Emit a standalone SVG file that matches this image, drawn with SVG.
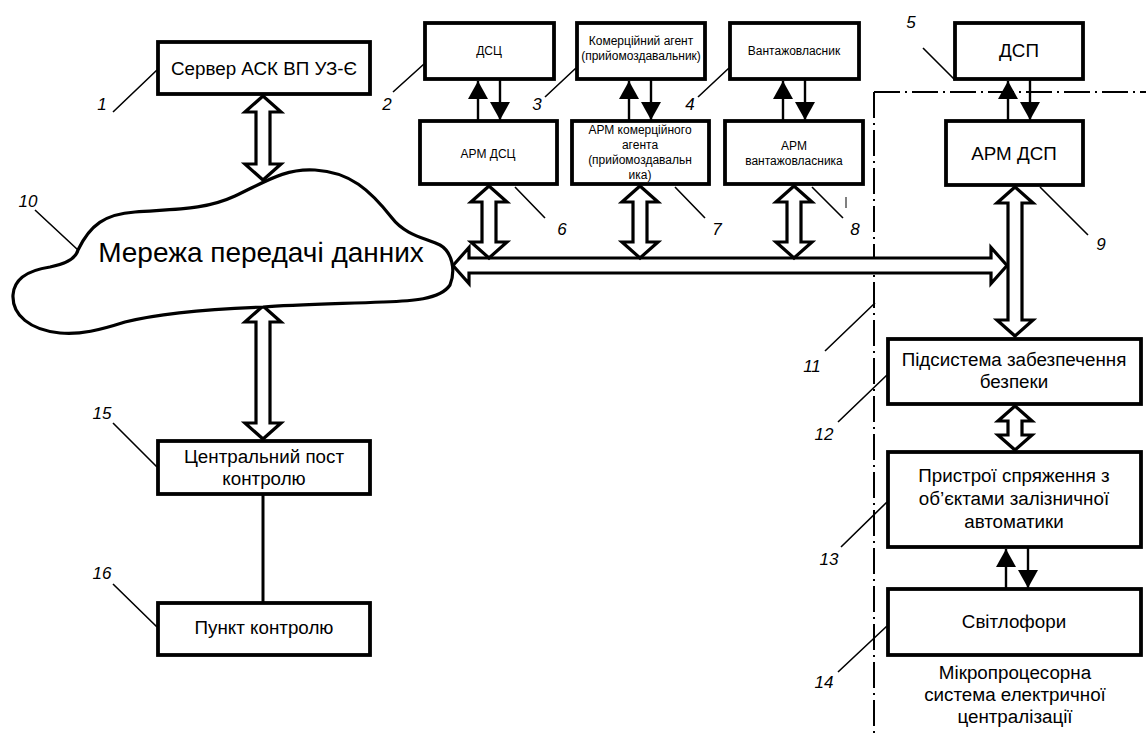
<svg xmlns="http://www.w3.org/2000/svg" width="1146" height="737" viewBox="0 0 1146 737">
<style>
.box{fill:#fff;stroke:#000;stroke-width:3.8}
.t{font-family:"Liberation Sans",Arial,sans-serif;fill:#000;text-anchor:middle}
.t18{font-size:18.8px}
.t13{font-size:12px}
.num{font-family:"Liberation Sans",Arial,sans-serif;font-size:17px;font-style:italic;text-anchor:middle}
.lead{stroke:#000;stroke-width:1.6;fill:none}
.dbl{fill:#fff;stroke:#000;stroke-width:3.2;stroke-linejoin:miter}
.sa{stroke:#000;stroke-width:2.4;fill:none;marker-end:url(#ah)}
.dd{stroke:#000;stroke-width:2;fill:none;stroke-dasharray:26 5 2 5}
</style>
<defs>
<marker id="ah" viewBox="0 0 18 20" refX="18" refY="10" markerWidth="18" markerHeight="20" markerUnits="userSpaceOnUse" orient="auto">
<path d="M0,0 L18,10 L0,20 Z" fill="#000"/>
</marker>
</defs>
<rect width="1146" height="737" fill="#fff"/>

<g id="boundary">
<path class="dd" d="M874,92 L1146,92"/>
<path class="dd" d="M874,92 L874,737"/>
</g>

<g id="connectors">
<polygon class="dbl" points="453,265.5 469,247.5 469,258 991,258 991,247.5 1007,265.5 991,283.5 991,273 469,273 469,283.5"/>
<polygon class="dbl" points="263,96 281,112 270,112 270,164 281,164 263,180 245,164 256,164 256,112 245,112"/>
<polygon class="dbl" points="263,306 281,322 270,322 270,423 281,423 263,439 245,423 256,423 256,322 245,322"/>
<polygon class="dbl" points="489,186 507,202 496,202 496,242 507,242 489,258 471,242 482,242 482,202 471,202"/>
<polygon class="dbl" points="640,186 658,202 647,202 647,242 658,242 640,258 622,242 633,242 633,202 622,202"/>
<polygon class="dbl" points="794,186 812,202 801,202 801,242 812,242 794,258 776,242 787,242 787,202 776,202"/>
<polygon class="dbl" points="1015,187 1033,203 1022,203 1022,320 1033,320 1015,336 997,320 1008,320 1008,203 997,203"/>
<polygon class="dbl" points="1015,406 1032,421 1022,421 1022,435 1032,435 1015,450 998,435 1008,435 1008,421 998,421"/>
<line class="sa" x1="478" y1="121" x2="478" y2="81"/>
<line class="sa" x1="500" y1="80" x2="500" y2="120"/>
<line class="sa" x1="629" y1="121" x2="629" y2="81"/>
<line class="sa" x1="651" y1="80" x2="651" y2="120"/>
<line class="sa" x1="783" y1="121" x2="783" y2="81"/>
<line class="sa" x1="805" y1="80" x2="805" y2="120"/>
<line class="sa" x1="1008" y1="121" x2="1008" y2="81"/>
<line class="sa" x1="1030" y1="80" x2="1030" y2="120"/>
<line class="sa" x1="1006" y1="589" x2="1006" y2="549"/>
<line class="sa" x1="1028" y1="548" x2="1028" y2="588"/>
<line x1="263" y1="495" x2="263" y2="603" stroke="#000" stroke-width="3"/>
</g>

<g id="n10">
<path d="M78,250 C90,225 105,214 135,212 C175,209 205,210 235,196 C265,182 285,168 315,170 C350,172 370,190 392,218 C405,235 425,238 440,245 C452,252 456,270 450,285 C440,300 410,301 383,302 C330,304 290,305 263,307 C210,309 160,313 125,322 C100,330 80,335 60,333 C30,330 12,315 13,295 C14,278 30,270 50,267 C65,264 76,258 78,250 Z" fill="#fff" stroke="#000" stroke-width="3.2"/>
<text class="t" x="261" y="262" font-size="28">Мережа передачі данних</text>
</g>

<g id="n1"><rect class="box" x="158" y="42" width="212" height="52"/><text class="t t18" x="264" y="75">Сервер АСК ВП УЗ-Є</text></g>
<g id="n2"><rect class="box" x="425" y="23" width="129" height="56"/><text class="t t13" x="489" y="55">ДСЦ</text></g>
<g id="n3"><rect class="box" x="577" y="23" width="128" height="56"/><text class="t t13" x="641" y="45">Комерційний агент</text><text class="t t13" x="641" y="60">(прийомоздавальник)</text></g>
<g id="n4"><rect class="box" x="730" y="23" width="129" height="56"/><text class="t t13" x="794" y="55">Вантажовласник</text></g>
<g id="n5"><rect class="box" x="955" y="23" width="128" height="56"/><text class="t t18" x="1019" y="57">ДСП</text></g>
<g id="n6"><rect class="box" x="420" y="121" width="137" height="63"/><text class="t t13" x="488" y="158">АРМ ДСЦ</text></g>
<g id="n7"><rect class="box" x="572" y="121" width="137" height="63"/><text class="t t13" x="640" y="134">АРМ комерційного</text><text class="t t13" x="640" y="149">агента</text><text class="t t13" x="640" y="164">(прийомоздавальн</text><text class="t t13" x="640" y="179">ика)</text></g>
<g id="n8"><rect class="box" x="725" y="121" width="138" height="63"/><text class="t t13" x="794" y="150">АРМ</text><text class="t t13" x="794" y="165">вантажовласника</text></g>
<g id="n9"><rect class="box" x="946" y="121" width="137" height="64"/><text class="t t18" x="1014" y="160">АРМ ДСП</text></g>
<g id="n12"><rect class="box" x="888" y="339" width="253" height="65"/><text class="t t18" x="1014" y="366">Підсистема забезпечення</text><text class="t t18" x="1014" y="388">безпеки</text></g>
<g id="n13"><rect class="box" x="888" y="452" width="253" height="95"/><text class="t t18" x="1014" y="482">Пристрої спряження з</text><text class="t t18" x="1014" y="505">об’єктами залізничної</text><text class="t t18" x="1014" y="528">автоматики</text></g>
<g id="n14"><rect class="box" x="888" y="589" width="253" height="66"/><text class="t t18" x="1014" y="628">Світлофори</text></g>
<g id="n11"><text class="t t18" x="1015" y="679">Мікропроцесорна</text><text class="t t18" x="1015" y="701">система електричної</text><text class="t t18" x="1015" y="723">централізації</text></g>
<g id="n15"><rect class="box" x="158" y="441" width="212" height="53"/><text class="t t18" x="264" y="463">Центральний пост</text><text class="t t18" x="264" y="485">контролю</text></g>
<g id="n16"><rect class="box" x="158" y="603" width="212" height="52"/><text class="t t18" x="264" y="634">Пункт контролю</text></g>

<g id="labels">
<path class="lead" d="M113,112 L157,70 M393,92 L424,64 M545,97 L576,68 M698,97 L729,68 M923,48 L955,80 M515,187 L545,218 M675,187 L705,218 M812,187 L843,218 M1040,187 L1088,235 M35,210 L78,250 M825,351 L875,303 M838,422 L887,375 M841,547 L887,502 M838,672 L887,626 M113,423 L157,467 M113,584 L157,627"/>
<line x1="846" y1="197" x2="846" y2="208" stroke="#000" stroke-width="1"/>
<text class="num" x="102" y="110">1</text>
<text class="num" x="387" y="110">2</text>
<text class="num" x="537" y="110">3</text>
<text class="num" x="690" y="110">4</text>
<text class="num" x="911" y="28">5</text>
<text class="num" x="562" y="235">6</text>
<text class="num" x="717" y="235">7</text>
<text class="num" x="855" y="235">8</text>
<text class="num" x="1101" y="250">9</text>
<text class="num" x="28" y="207">10</text>
<text class="num" x="812" y="372">11</text>
<text class="num" x="824" y="440">12</text>
<text class="num" x="829" y="565">13</text>
<text class="num" x="824" y="688">14</text>
<text class="num" x="102" y="419">15</text>
<text class="num" x="102" y="579">16</text>
</g>
</svg>
